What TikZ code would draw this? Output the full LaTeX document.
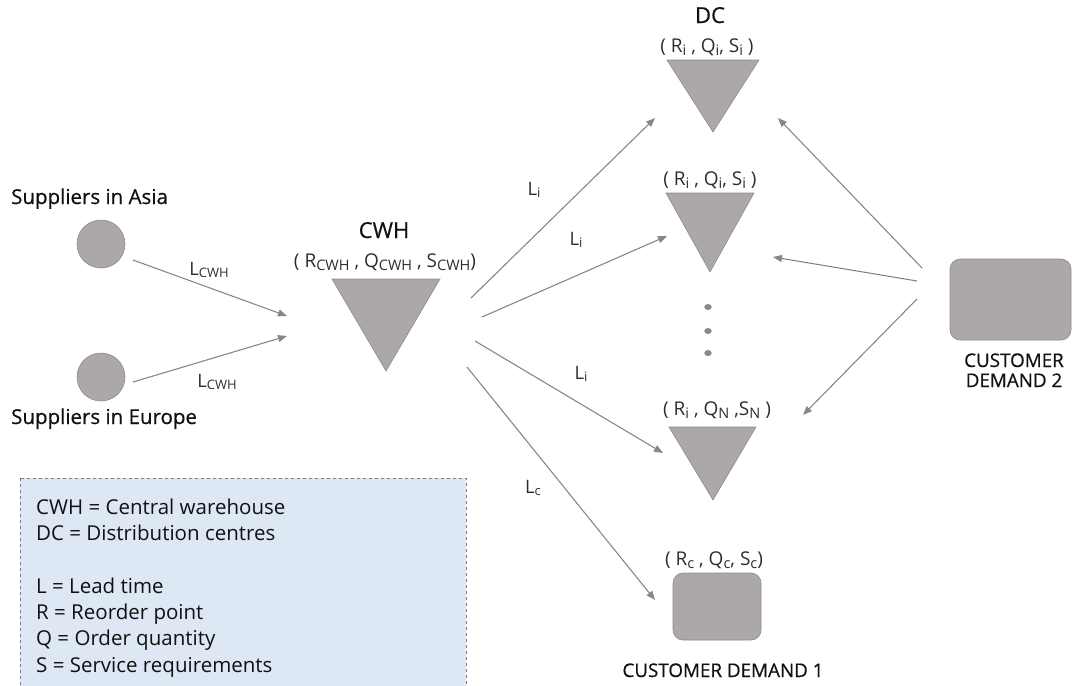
\documentclass[tikz,border=0pt]{standalone}
\usepackage{fontspec}
\setmainfont{Open Sans}
\newfontfamily\medfont[FakeBold=0.6]{Open Sans}
\usepackage{graphicx}
\usetikzlibrary{arrows.meta,shapes.geometric}

\definecolor{shapegray}{HTML}{ACA8A8}
\definecolor{shapeedge}{HTML}{8F8B8B}
\definecolor{linkgray}{HTML}{878787}
\definecolor{legendfill}{HTML}{DDE8F4}
\definecolor{legendedge}{HTML}{7D7D7D}
\definecolor{txt}{HTML}{111111}
\definecolor{subtxt}{HTML}{2E2E2E}
\definecolor{dotgray}{HTML}{8A8A8A}

% lowered, smaller index text: lead times and parameter tuples
\newcommand\lsub[1]{\raisebox{-0.3ex}{\fontsize{13}{13}\selectfont #1}}
\newcommand\psub[1]{\raisebox{-0.3ex}{\fontsize{14.5}{14.5}\selectfont #1}}

\begin{document}
\begin{tikzpicture}[x=1pt,y=-1pt,
  flow/.style={draw=linkgray, line width=1.1pt, -{Triangle[length=9pt,width=7pt]}},
  site/.style={circle, fill=shapegray, draw=shapeedge, line width=0.6pt, minimum size=48pt, inner sep=0pt},
  store/.style={fill=shapegray, draw=shapeedge, line width=0.6pt},
  demand/.style={rounded corners=10pt, fill=shapegray, draw=shapeedge, line width=0.6pt, inner sep=0pt},
  title/.style={font=\medfont\fontsize{20.5}{22}\selectfont, text=txt, inner sep=0pt},
  bigtitle/.style={font=\medfont\fontsize{22}{24}\selectfont, text=txt, inner sep=0pt},
  param/.style={font=\fontsize{19}{20}\selectfont, text=subtxt, inner sep=0pt},
  lead/.style={font=\fontsize{18.5}{20}\selectfont, text=subtxt, inner sep=0pt},
  caps/.style={font=\medfont\fontsize{18.8}{20}\selectfont, text=txt, inner sep=0pt, align=center},
  legendtxt/.style={font=\fontsize{20.5}{26.3}\selectfont, text=txt, inner sep=0pt, align=left},
]
\useasboundingbox (0,0) rectangle (1072,686);

% legend panel (node anchored on the baseline of its last line)
\draw[fill=legendfill, draw=legendedge, dashed, line width=0.6pt] (20,478) rectangle (466,700);
\node[legendtxt, anchor=base west] (legend) at (36,672)
  {CWH = Central warehouse\\ DC = Distribution centres\\[26.3pt] L = Lead time\\ R = Reorder point\\ Q = Order quantity\\ S = Service requirements};

% suppliers
\node[title, anchor=base west] (asiaLbl) at (11,204) {Suppliers in Asia};
\node[site] (asia) at (101,244) {};
\node[site] (europe) at (101,377) {};
\node[title, anchor=base west] (europeLbl) at (11,424) {Suppliers in Europe};

% central warehouse
\node[bigtitle, anchor=base] (cwhLbl) at (384,238) {CWH};
\node[param, anchor=base] (cwhPar) at (385,267) {( R\psub{CWH} , Q\psub{CWH} , S\psub{CWH})};
\draw[store] (332,279) -- (440,279) -- (386,371) -- cycle;
\coordinate (cwh) at (386,310);

% distribution centres
\node[bigtitle, anchor=base] (dcLbl) at (710,23) {DC};
\node[param, anchor=base] (dcaPar) at (707,52) {( R\psub{i} , Q\psub{i}, S\psub{i} )};
\draw[store] (667,60) -- (759,60) -- (713,132) -- cycle;
\node[param, anchor=base] (dcbPar) at (710,185) {( R\psub{i} , Q\psub{i}, S\psub{i} )};
\draw[store] (666,193) -- (754,193) -- (710,272) -- cycle;
\foreach \yy/\nm in {307/d1,331/d2,353/d3}
  \node[ellipse, fill=dotgray, minimum width=7.5pt, minimum height=6pt, inner sep=0pt] (\nm) at (708,\yy) {};
\node[param, anchor=base] (dcnPar) at (717,415) {( R\psub{i} , Q\psub{N} ,S\psub{N} )};
\draw[store] (669,427) -- (756,427) -- (713,500) -- cycle;

% customer demand 1
\node[param, anchor=base] (cd1Par) at (714,565) {( R\psub{c} , Q\psub{c}, S\psub{c})};
\node[demand, minimum width=88pt, minimum height=67pt] (cd1) at (717,606.5) {};
\node[caps, anchor=base] (cd1Lbl) at (723,677) {CUSTOMER DEMAND 1};

% customer demand 2 (label anchored on its last line)
\node[demand, minimum width=121pt, minimum height=81pt] (cd2) at (1010.5,299.5) {};
\node[caps, anchor=base] (cd2Lbl) at (1014,387) {CUSTOMER\\DEMAND 2};

% connector end points
\coordinate (asiaOut) at (133,260);
\coordinate (europeOut) at (133,382);
\coordinate (cwhInA) at (287,316);
\coordinate (cwhInB) at (287,336);
\coordinate (cwhOutA) at (471,298);
\coordinate (cwhOutB) at (482,317);
\coordinate (cwhOutC) at (475,341);
\coordinate (cwhOutD) at (467,367);
\coordinate (dcaIn) at (655,118);
\coordinate (dcbIn) at (667,236);
\coordinate (dcnIn) at (663,453);
\coordinate (cd1In) at (655,600);
\coordinate (cd2OutA) at (922,268);
\coordinate (cd2OutB) at (917,281);
\coordinate (cd2OutC) at (917,299);
\coordinate (dcaInR) at (778,118);
\coordinate (dcbInR) at (773,257);
\coordinate (dcnInR) at (803,415);

% supply flows
\draw[flow] (asiaOut) -- (cwhInA);
\draw[flow] (europeOut) -- (cwhInB);
\node[lead, anchor=base] (lA) at (209,275) {L\lsub{CWH}};
\node[lead, anchor=base] (lE) at (217,387) {L\lsub{CWH}};

% replenishment flows
\draw[flow] (cwhOutA) -- (dcaIn);
\draw[flow] (cwhOutB) -- (dcbIn);
\draw[flow] (cwhOutC) -- (dcnIn);
\draw[flow] (cwhOutD) -- (cd1In);
\node[lead, anchor=base] (l1) at (534,195) {L\lsub{i}};
\node[lead, anchor=base] (l2) at (576,245) {L\lsub{i}};
\node[lead, anchor=base] (l3) at (581,379) {L\lsub{i}};
\node[lead, anchor=base] (lc) at (533,493) {L\lsub{c}};

% demand flows
\draw[flow] (cd2OutA) -- (dcaInR);
\draw[flow] (cd2OutB) -- (dcbInR);
\draw[flow] (cd2OutC) -- (dcnInR);
\end{tikzpicture}
\end{document}
